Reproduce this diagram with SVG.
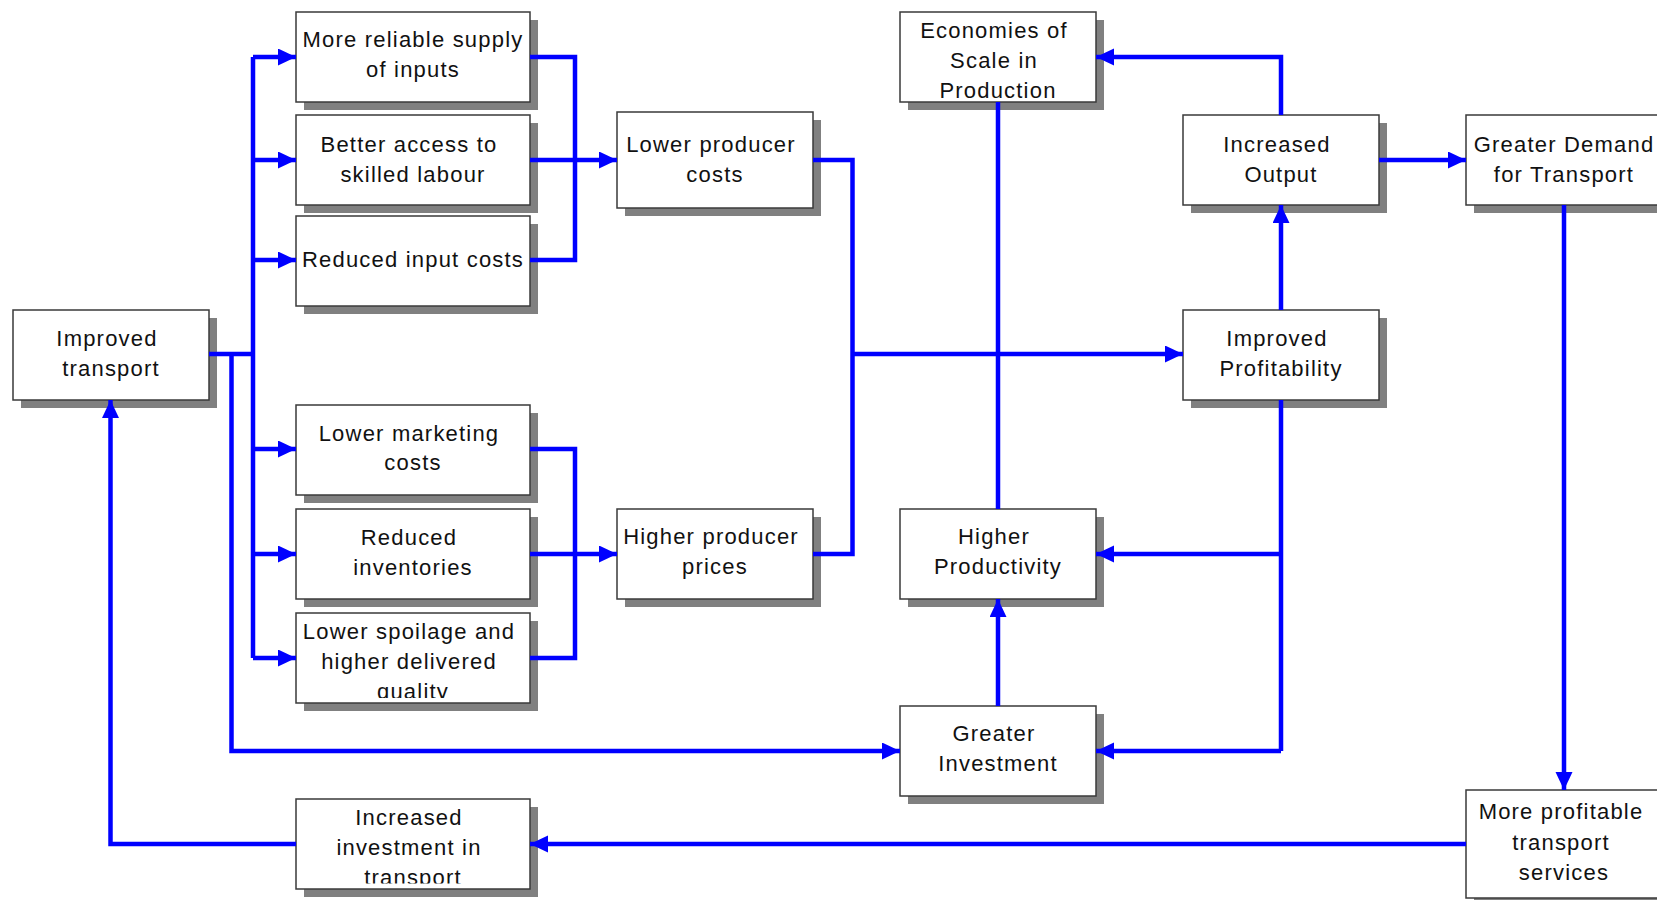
<svg xmlns="http://www.w3.org/2000/svg" width="1657" height="900" viewBox="0 0 1657 900">
<style>
.sh{fill:#808080}
.bx{fill:#ffffff;stroke:#3a3a3a;stroke-width:1.5}
.t{font-family:"Liberation Sans",Arial,sans-serif;font-size:22px;letter-spacing:1.2px;fill:#111;text-anchor:middle}
.c{fill:none;stroke:#0000ff;stroke-width:4.5;stroke-linejoin:miter;stroke-linecap:butt}
</style>
<defs>
<marker id="ah" markerUnits="userSpaceOnUse" markerWidth="20" markerHeight="18" refX="18" refY="8.5" orient="auto">
<path d="M0,0 L18,8.5 L0,17 z" fill="#0000ff"/>
</marker>
<clipPath id="clipSpoil"><rect x="296" y="613" width="234" height="85"/></clipPath>
<clipPath id="clipInv"><rect x="296" y="799" width="234" height="84.5"/></clipPath>
</defs>
<rect width="1657" height="900" fill="#ffffff"/>

<g id="n-improved-transport">
<rect class="sh" x="21" y="318" width="196" height="90"/>
<rect class="bx" x="13" y="310" width="196" height="90"/>
<text class="t" x="107" y="346">Improved</text>
<text class="t" x="111" y="376">transport</text>
</g>

<g id="n-reliable-supply">
<rect class="sh" x="304" y="20" width="234" height="90"/>
<rect class="bx" x="296" y="12" width="234" height="90"/>
<text class="t" x="413" y="47">More reliable supply</text>
<text class="t" x="413" y="77">of inputs</text>
</g>

<g id="n-skilled-labour">
<rect class="sh" x="304" y="123" width="234" height="90"/>
<rect class="bx" x="296" y="115" width="234" height="90"/>
<text class="t" x="409" y="152">Better access to</text>
<text class="t" x="413" y="182">skilled labour</text>
</g>

<g id="n-input-costs">
<rect class="sh" x="304" y="224" width="234" height="90"/>
<rect class="bx" x="296" y="216" width="234" height="90"/>
<text class="t" x="413" y="267">Reduced input costs</text>
</g>

<g id="n-marketing-costs">
<rect class="sh" x="304" y="413" width="234" height="90"/>
<rect class="bx" x="296" y="405" width="234" height="90"/>
<text class="t" x="409" y="441">Lower marketing</text>
<text class="t" x="413" y="470">costs</text>
</g>

<g id="n-inventories">
<rect class="sh" x="304" y="517" width="234" height="90"/>
<rect class="bx" x="296" y="509" width="234" height="90"/>
<text class="t" x="409" y="545">Reduced</text>
<text class="t" x="413" y="575">inventories</text>
</g>

<g id="n-spoilage">
<rect class="sh" x="304" y="621" width="234" height="90"/>
<rect class="bx" x="296" y="613" width="234" height="90"/>
<g clip-path="url(#clipSpoil)">
<text class="t" x="409" y="638.5">Lower spoilage and</text>
<text class="t" x="409" y="668.5">higher delivered</text>
<text class="t" x="413" y="698.5">quality</text>
</g>
</g>

<g id="n-transport-investment">
<rect class="sh" x="304" y="807" width="234" height="90"/>
<rect class="bx" x="296" y="799" width="234" height="90"/>
<g clip-path="url(#clipInv)">
<text class="t" x="409" y="825">Increased</text>
<text class="t" x="409" y="855">investment in</text>
<text class="t" x="413" y="885">transport</text>
</g>
</g>

<g id="n-lower-producer-costs">
<rect class="sh" x="625" y="120" width="196" height="96"/>
<rect class="bx" x="617" y="112" width="196" height="96"/>
<text class="t" x="711" y="152">Lower producer</text>
<text class="t" x="715" y="182">costs</text>
</g>

<g id="n-higher-producer-prices">
<rect class="sh" x="625" y="517" width="196" height="90"/>
<rect class="bx" x="617" y="509" width="196" height="90"/>
<text class="t" x="711" y="544">Higher producer</text>
<text class="t" x="715" y="574">prices</text>
</g>

<g id="n-economies-of-scale">
<rect class="sh" x="908" y="20" width="196" height="90"/>
<rect class="bx" x="900" y="12" width="196" height="90"/>
<text class="t" x="994" y="38">Economies of</text>
<text class="t" x="994" y="68">Scale in</text>
<text class="t" x="998" y="98">Production</text>
</g>

<g id="n-higher-productivity">
<rect class="sh" x="908" y="517" width="196" height="90"/>
<rect class="bx" x="900" y="509" width="196" height="90"/>
<text class="t" x="994" y="544">Higher</text>
<text class="t" x="998" y="574">Productivity</text>
</g>

<g id="n-greater-investment">
<rect class="sh" x="908" y="714" width="196" height="90"/>
<rect class="bx" x="900" y="706" width="196" height="90"/>
<text class="t" x="994" y="741">Greater</text>
<text class="t" x="998" y="771">Investment</text>
</g>

<g id="n-increased-output">
<rect class="sh" x="1191" y="123" width="196" height="90"/>
<rect class="bx" x="1183" y="115" width="196" height="90"/>
<text class="t" x="1277" y="152">Increased</text>
<text class="t" x="1281" y="182">Output</text>
</g>

<g id="n-improved-profitability">
<rect class="sh" x="1191" y="318" width="196" height="90"/>
<rect class="bx" x="1183" y="310" width="196" height="90"/>
<text class="t" x="1277" y="346">Improved</text>
<text class="t" x="1281" y="376">Profitability</text>
</g>

<g id="n-greater-demand">
<rect class="sh" x="1474" y="123" width="196" height="90"/>
<rect class="bx" x="1466" y="115" width="196" height="90"/>
<text class="t" x="1564" y="152">Greater Demand</text>
<text class="t" x="1564" y="182">for Transport</text>
</g>

<g id="n-profitable-transport">
<rect class="sh" x="1474" y="798" width="196" height="108"/>
<rect class="bx" x="1466" y="790" width="196" height="108"/>
<text class="t" x="1561" y="819">More profitable</text>
<text class="t" x="1561" y="849.5">transport</text>
<text class="t" x="1564" y="880">services</text>
</g>

<g id="connectors">
<path class="c" d="M209,354 H253"/>
<path class="c" d="M253,57 V658"/>
<path class="c" d="M253,57 H296" marker-end="url(#ah)"/>
<path class="c" d="M253,160 H296" marker-end="url(#ah)"/>
<path class="c" d="M253,260 H296" marker-end="url(#ah)"/>
<path class="c" d="M253,449 H296" marker-end="url(#ah)"/>
<path class="c" d="M253,554 H296" marker-end="url(#ah)"/>
<path class="c" d="M253,658 H296" marker-end="url(#ah)"/>
<path class="c" d="M231.5,354 V751 H900" marker-end="url(#ah)"/>
<path class="c" d="M530,57 H575 V260 H530"/>
<path class="c" d="M530,160 H617" marker-end="url(#ah)"/>
<path class="c" d="M530,449 H575 V658 H530"/>
<path class="c" d="M530,554 H617" marker-end="url(#ah)"/>
<path class="c" d="M813,160 H852.5 V554 H813"/>
<path class="c" d="M852.5,354 H1183" marker-end="url(#ah)"/>
<path class="c" d="M998,102 V509"/>
<path class="c" d="M1281,310 V205" marker-end="url(#ah)"/>
<path class="c" d="M1281,115 V57 H1096" marker-end="url(#ah)"/>
<path class="c" d="M1379,160 H1466" marker-end="url(#ah)"/>
<path class="c" d="M1281,400 V751"/>
<path class="c" d="M1281,554 H1096" marker-end="url(#ah)"/>
<path class="c" d="M1281,751 H1096" marker-end="url(#ah)"/>
<path class="c" d="M998,706 V599" marker-end="url(#ah)"/>
<path class="c" d="M1564,205 V790" marker-end="url(#ah)"/>
<path class="c" d="M1466,844 H530" marker-end="url(#ah)"/>
<path class="c" d="M296,844 H110.5 V400" marker-end="url(#ah)"/>
</g>
</svg>
